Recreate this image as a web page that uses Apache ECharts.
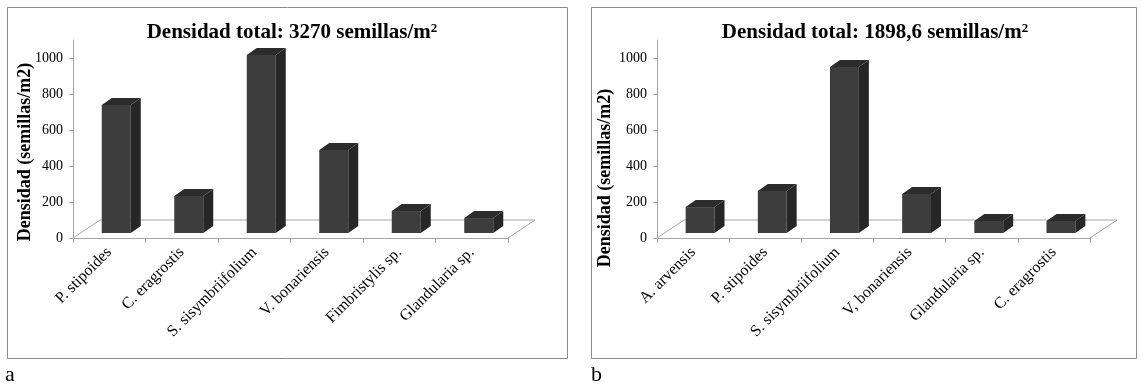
<!DOCTYPE html>
<html>
<head>
<meta charset="utf-8">
<script src="https://cdn.jsdelivr.net/npm/echarts@6/dist/echarts.min.js"></script>
<style>
  html, body { margin: 0; padding: 0; background: #fff; }
  #chartBox { width: 1141px; height: 392px; }
</style>
</head>
<body>
<div id="chartBox"></div>
<script>
// datos
var categoriesA = ['P. stipoides', 'C. eragrostis', 'S. sisymbriifolium', 'V. bonariensis', 'Fimbristylis sp.', 'Glandularia sp.'];
var valuesA = [711, 206, 989, 461, 122, 83];
var categoriesB = ['A. arvensis', 'P. stipoides', 'S. sisymbriifolium', 'V, bonariensis', 'Glandularia sp.', 'C. eragrostis'];
var valuesB = [144, 233, 922, 217, 67, 67];
var yTicks = [0, 200, 400, 600, 800, 1000];
var titleA = 'Densidad total: 3270 semillas/m';
var titleB = 'Densidad total: 1898,6 semillas/m';
var yName = 'Densidad (semillas/m2)';

var serif = '"Liberation Serif", "DejaVu Serif", serif';
var axisGray = '#a6a6a6';

window.addEventListener('load', function() {
	var myChart = echarts.init(document.getElementById('chartBox'));

	// suelo en perspectiva (paralelogramo)
	function floorRender(n) {
		return function(params, api) {
			var w = api.size([1, 0])[0];
			var l = api.coord([0, 0]);
			var r = api.coord([n - 1, 0]);
			var x0 = l[0] - w / 2, x1 = r[0] + w / 2, y = l[1];
			return {
				type: 'polyline',
				shape: { points: [[x0, y], [x0 + 27, y - 18], [x1 + 27, y - 18], [x1, y]] },
				style: { stroke: axisGray, fill: null, lineWidth: 1 },
				silent: true
			};
		};
	}

	// columna 3D: frente, lado y tapa
	function barRender(params, api) {
		var i = api.value(0), v = api.value(1);
		var base = api.coord([i, 0]);
		var top = api.coord([i, v]);
		var bw = api.size([1, 0])[0] * 0.4;
		var xl = base[0] - bw / 2 + 7, xr = xl + bw;
		var yb = base[1] - 5, yt = top[1] - 5;
		var ddx = 10, ddy = -7;
		return {
			type: 'group',
			children: [
				{ type: 'polygon', shape: { points: [[xl, yb], [xr, yb], [xr, yt], [xl, yt]] },
				  style: { fill: '#3d3d3d' } },
				{ type: 'polygon', shape: { points: [[xr, yb], [xr, yt], [xr + ddx, yt + ddy], [xr + ddx, yb + ddy]] },
				  style: { fill: '#262626' } },
				{ type: 'polygon', shape: { points: [[xl, yt], [xr, yt], [xr + ddx, yt + ddy], [xl + ddx, yt + ddy]] },
				  style: { fill: '#2c2c2c' } }
			]
		};
	}

	function xAxisFor(cats, idx) {
		return {
			type: 'category',
			gridIndex: idx,
			data: cats,
			axisLine: { lineStyle: { color: axisGray } },
			axisTick: { show: true, length: 5, lineStyle: { color: axisGray } },
			axisLabel: { interval: 0, rotate: 45, margin: 12, color: '#000', fontFamily: serif, fontSize: 16 }
		};
	}

	function yAxisFor(idx) {
		return {
			type: 'value',
			gridIndex: idx,
			min: 0,
			max: 1100,
			interval: 200,
			axisLine: { show: true, lineStyle: { color: axisGray } },
			axisTick: { show: true, length: 4, customValues: yTicks, lineStyle: { color: axisGray } },
			axisLabel: {
				customValues: yTicks, margin: 10, color: '#000', fontFamily: serif, fontSize: 14,
				formatter: function(v) { return String(v); }
			},
			splitLine: { show: false }
		};
	}

	function titleFor(text, x) {
		return {
			text: '{t|' + text + '}{s|2}',
			left: x,
			top: 17,
			textAlign: 'center',
			textStyle: {
				rich: {
					t: { fontFamily: serif, fontWeight: 'bold', fontSize: 21, color: '#000' },
					s: { fontFamily: serif, fontWeight: 'bold', fontSize: 13, color: '#000', verticalAlign: 'top', padding: [0, 0, 9, 0] }
				}
			}
		};
	}

	function yNameText(x, y) {
		return {
			type: 'text',
			x: x,
			y: y,
			rotation: Math.PI / 2,
			style: {
				text: yName,
				fontFamily: serif,
				fontWeight: 'bold',
				fontSize: 18,
				fill: '#000',
				align: 'center',
				verticalAlign: 'middle'
			}
		};
	}

	var option = {
		backgroundColor: '#fff',
		animation: false,
		title: [titleFor(titleA, 287), titleFor(titleB, 870)],
		grid: [
			{ left: 73, top: 40, width: 435, height: 198 },
			{ left: 657, top: 40, width: 433, height: 198 }
		],
		xAxis: [xAxisFor(categoriesA, 0), xAxisFor(categoriesB, 1)],
		yAxis: [yAxisFor(0), yAxisFor(1)],
		graphic: [
			{ type: 'rect', shape: { x: 7.5, y: 7.5, width: 560, height: 351 }, style: { fill: null, stroke: '#8c8c8c', lineWidth: 1 } },
			{ type: 'rect', shape: { x: 591.5, y: 7.5, width: 545, height: 351 }, style: { fill: null, stroke: '#8c8c8c', lineWidth: 1 } },
			yNameText(25, 152),
			yNameText(605, 178),
			{ type: 'text', x: 5, y: 364, style: { text: 'a', fontFamily: serif, fontSize: 22, fill: '#000' } },
			{ type: 'text', x: 591, y: 364, style: { text: 'b', fontFamily: serif, fontSize: 22, fill: '#000' } }
		],
		series: [
			{ type: 'custom', xAxisIndex: 0, yAxisIndex: 0, data: [0], renderItem: floorRender(categoriesA.length), clip: false, z: 1 },
			{ type: 'custom', xAxisIndex: 1, yAxisIndex: 1, data: [0], renderItem: floorRender(categoriesB.length), clip: false, z: 1 },
			{
				type: 'custom', xAxisIndex: 0, yAxisIndex: 0, clip: false, z: 2,
				data: valuesA.map(function(v, i) { return [i, v]; }),
				encode: { x: 0, y: 1 },
				renderItem: barRender
			},
			{
				type: 'custom', xAxisIndex: 1, yAxisIndex: 1, clip: false, z: 2,
				data: valuesB.map(function(v, i) { return [i, v]; }),
				encode: { x: 0, y: 1 },
				renderItem: barRender
			}
		]
	};
	myChart.setOption(option);
});
</script>
</body>
</html>
